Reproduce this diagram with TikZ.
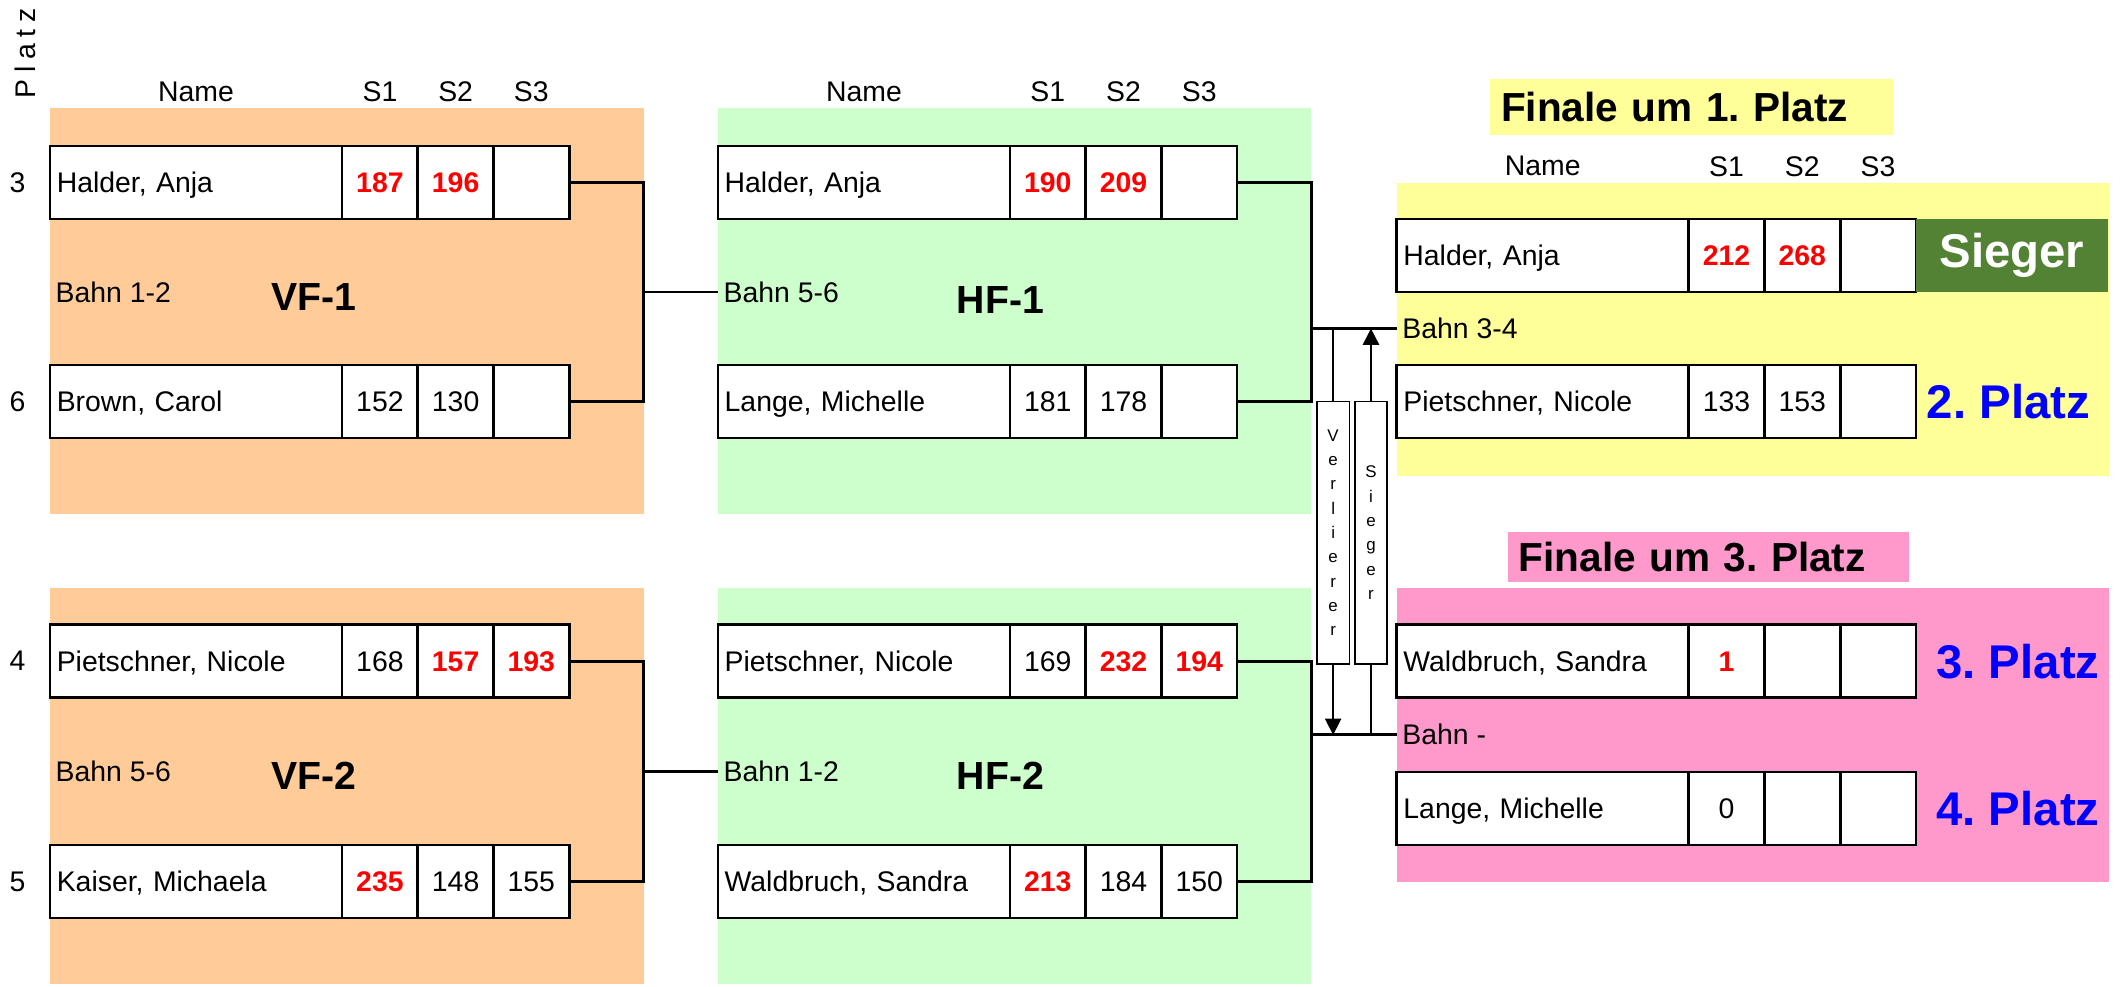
\documentclass[tikz,border=0pt]{standalone}
\usepackage{fontspec}
\setmainfont{Liberation Sans}
\usetikzlibrary{arrows.meta, positioning, calc}
\frenchspacing

\definecolor{vforange}{HTML}{FFCC99}
\definecolor{hfgreen}{HTML}{CCFFCC}
\definecolor{finyellow}{HTML}{FFFF99}
\definecolor{finpink}{HTML}{FF99CC}
\definecolor{siegergreen}{HTML}{548235}

% winning game score
\newcommand{\hs}[1]{\textcolor{red}{\bfseries #1}}
% one player row: id, x, y (top left), name, S1, S2, S3
\newcommand{\zeile}[7]{%
  \node[namecell] (#1-n) at (#2,#3) {#4};
  \node[scorecell, right=0pt of #1-n] (#1-1) {#5};
  \node[scorecell, right=0pt of #1-1] (#1-2) {#6};
  \node[scorecell, right=0pt of #1-2] (#1-3) {#7};
}

\begin{document}
\begin{tikzpicture}[x=1pt, y=-1pt,
    every node/.style={font=\fontsize{21}{25}\selectfont},
    panel/.style={anchor=north west, inner sep=0pt, outer sep=0pt,
        minimum width=439pt, minimum height=300pt},
    namecell/.style={draw, line width=2pt, fill=white, anchor=north west,
        outer sep=0pt, inner xsep=5pt, text width=206pt, align=left,
        minimum height=54pt, text height=15pt, text depth=0pt},
    scorecell/.style={draw, line width=2pt, fill=white, outer sep=0pt,
        inner sep=0pt, minimum width=56pt, minimum height=54pt,
        text height=15pt, text depth=0pt},
    hdr/.style={inner sep=2pt},
    plznum/.style={inner sep=3pt},
    bahnlab/.style={anchor=west, inner xsep=4pt},
    rndlab/.style={font=\fontsize{29}{34}\selectfont\bfseries},
    titlelab/.style={anchor=north west, inner xsep=8pt, inner ysep=0pt,
        align=left, font=\fontsize{30}{34}\selectfont\bfseries},
    placelab/.style={text=blue, inner sep=3pt,
        font=\fontsize{35}{40}\selectfont\bfseries},
    lanebox/.style={draw, line width=1.2pt, fill=white, inner sep=0pt,
        minimum width=24pt, minimum height=194pt, align=center,
        font=\fontsize{12.5}{18}\selectfont},
    conn/.style={line width=2pt},
    arrow/.style={-{Triangle[width=12pt, length=12pt]}, line width=1.2pt},
]
\useasboundingbox (0,0) rectangle (1568,730);

% ===== BACKGROUNDS =====
\node[panel, fill=vforange] (vf1bg) at (37,80) {};
\node[panel, fill=vforange, minimum height=293pt] (vf2bg) at (37,435) {};
\node[panel, fill=hfgreen] (hf1bg) at (531,80) {};
\node[panel, fill=hfgreen, minimum height=293pt] (hf2bg) at (531,435) {};
\node[panel, fill=finyellow, minimum width=527pt, minimum height=217pt] (f1bg) at (1033,135) {};
\node[panel, fill=finpink, minimum width=527pt, minimum height=217pt] (f3bg) at (1033,435) {};

% Final titles
\node[titlelab, fill=finyellow, text width=282pt, minimum height=42pt] (f1-title) at (1102,58) {Finale um 1. Platz};
\node[titlelab, fill=finpink, text width=281pt, minimum height=37pt] (f3-title) at (1115,393) {Finale um 3. Platz};

% ===== PLAYER ROWS =====
\zeile{vf1-a}{37}{108}{Halder, Anja}{\hs{187}}{\hs{196}}{}
\zeile{vf1-b}{37}{270}{Brown, Carol}{152}{130}{}
\zeile{vf2-a}{37}{462}{Pietschner, Nicole}{168}{\hs{157}}{\hs{193}}
\zeile{vf2-b}{37}{625}{Kaiser, Michaela}{\hs{235}}{148}{155}

\zeile{hf1-a}{531}{108}{Halder, Anja}{\hs{190}}{\hs{209}}{}
\zeile{hf1-b}{531}{270}{Lange, Michelle}{181}{178}{}
\zeile{hf2-a}{531}{462}{Pietschner, Nicole}{169}{\hs{232}}{\hs{194}}
\zeile{hf2-b}{531}{625}{Waldbruch, Sandra}{\hs{213}}{184}{150}

\zeile{f1-a}{1033}{162}{Halder, Anja}{\hs{212}}{\hs{268}}{}
\zeile{f1-b}{1033}{270}{Pietschner, Nicole}{133}{153}{}
\zeile{f3-a}{1033}{462}{Waldbruch, Sandra}{\hs{1}}{}{}
\zeile{f3-b}{1033}{571}{Lange, Michelle}{0}{}{}

% Column headers
\coordinate (hdr-top) at (0,68);
\coordinate (hdr-fin) at (0,123);
\foreach \c/\t in {n/Name, 1/S1, 2/S2, 3/S3} {
    \node[hdr] (vf-h\c) at (vf1-a-\c |- hdr-top) {\t};
    \node[hdr] (hf-h\c) at (hf1-a-\c |- hdr-top) {\t};
    \node[hdr] (f-h\c) at (f1-a-\c |- hdr-fin) {\t};
}

% Seeding numbers
\node[rotate=90, inner sep=0pt, font=\fontsize{21}{23}\selectfont] (plz-head) at (18.5,39.5)
    {P\hspace{5pt}l\hspace{5pt}a\hspace{5pt}t\hspace{5pt}z};
\node[plznum, left=15pt of vf1-a-n] (vf1-a-p) {3};
\node[plznum, left=15pt of vf1-b-n] (vf1-b-p) {6};
\node[plznum, left=15pt of vf2-a-n] (vf2-a-p) {4};
\node[plznum, left=15pt of vf2-b-n] (vf2-b-p) {5};

% ===== ROUND LABELS =====
\node[bahnlab] (vf1-bahn) at ($(vf1-a-n.west)!.5!(vf1-b-n.west)$) {Bahn 1-2};
\node[bahnlab] (vf2-bahn) at ($(vf2-a-n.west)!.5!(vf2-b-n.west)$) {Bahn 5-6};
\node[bahnlab] (hf1-bahn) at ($(hf1-a-n.west)!.5!(hf1-b-n.west)$) {Bahn 5-6};
\node[bahnlab] (hf2-bahn) at ($(hf2-a-n.west)!.5!(hf2-b-n.west)$) {Bahn 1-2};
\node[bahnlab] (f1-bahn) at ($(f1-a-n.west)!.5!(f1-b-n.west)$) {Bahn 3-4};
\node[bahnlab] (f3-bahn) at ($(f3-a-n.west)!.5!(f3-b-n.west)$) {Bahn -};

\node[rndlab] (vf1-lab) at (232,220) {VF-1};
\node[rndlab] (vf2-lab) at (232,574) {VF-2};
\node[rndlab] (hf1-lab) at (740,222) {HF-1};
\node[rndlab] (hf2-lab) at (740,574) {HF-2};

% Places
\node[right=0pt of f1-a-3, fill=siegergreen, text=white, outer sep=0pt,
      minimum width=142pt, minimum height=54pt,
      font=\fontsize{35}{40}\selectfont\bfseries] (f1-sieger) {Sieger};
\node[placelab, right=5pt of f1-b-3] (f1-p2) {2. Platz};
\node[placelab, right=12pt of f3-a-3] (f3-p3) {3. Platz};
\node[placelab, right=12pt of f3-b-3] (f3-p4) {4. Platz};

% ===== CONNECTORS =====
\draw[conn] (vf1-a-3.east) -| (vf1bg.east |- vf1-b-3.east) -- (vf1-b-3.east);
\draw[conn] (vf1bg.east |- hf1-bahn.west) -- (hf1-bahn.west);
\draw[conn] (vf2-a-3.east) -| (vf2bg.east |- vf2-b-3.east) -- (vf2-b-3.east);
\draw[conn] (vf2bg.east |- hf2-bahn.west) -- (hf2-bahn.west);

\draw[conn] (hf1-a-3.east) -| (hf1bg.east |- hf1-b-3.east) -- (hf1-b-3.east);
\draw[conn] (hf1bg.east |- f1-bahn.west) -- (f1-bahn.west);
\draw[conn] (hf2-a-3.east) -| (hf2bg.east |- hf2-b-3.east) -- (hf2-b-3.east);
\draw[conn] (hf2bg.east |- f3-bahn.west) -- (f3-bahn.west);

% Loser / winner paths between the finals
\node[lanebox] (vl-box) at (986,394) {V\\e\\r\\l\\i\\e\\r\\e\\r};
\node[lanebox] (sg-box) at (1014,394) {S\\i\\e\\g\\e\\r};
\draw[line width=1.2pt] (vl-box.north |- f1-bahn.west) -- (vl-box.north);
\draw[arrow] (vl-box.south) -- (vl-box.south |- f3-bahn.west);
\draw[line width=1.2pt] (sg-box.south |- f3-bahn.west) -- (sg-box.south);
\draw[arrow] (sg-box.north) -- (sg-box.north |- f1-bahn.west);

\end{tikzpicture}
\end{document}
